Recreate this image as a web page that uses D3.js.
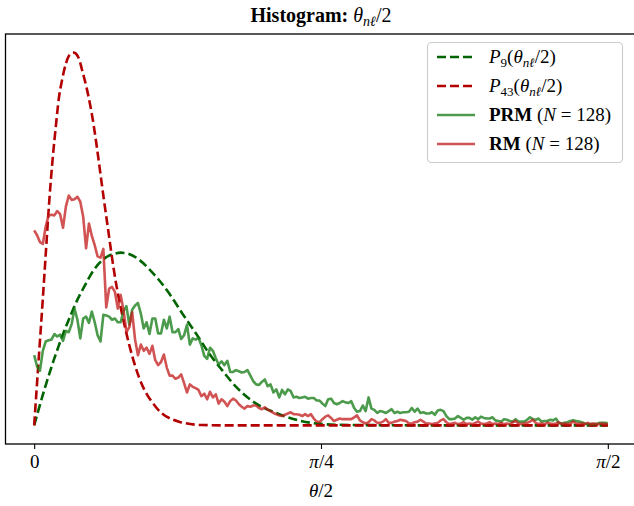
<!DOCTYPE html>
<html><head><meta charset="utf-8">
<script src="https://cdn.jsdelivr.net/npm/d3@7"></script>
<style>
body{margin:0;background:#fff}
svg{display:block}
text{font-family:"Liberation Serif","DejaVu Serif",serif;fill:#000}
</style>
</head><body>
<svg id="chart" width="634" height="506"></svg>
<script>
// ---------------- data ----------------
const binCount = 200;           // histogram bins over [0, π/2]
const thetaMax = Math.PI / 2;

// PRM (N = 128) histogram density, one value per bin
const prmValues = [
 1.13,0.95,0.88,1.20,1.35,1.37,1.38,1.47,1.43,1.46,
 1.36,1.52,1.50,1.63,1.88,1.70,1.40,1.72,1.75,1.65,
 1.83,1.66,1.45,1.35,1.78,1.77,1.75,1.70,1.72,1.66,
 1.66,1.84,1.92,1.62,1.86,1.93,1.97,1.80,1.56,1.66,
 1.47,1.72,1.72,1.48,1.48,1.70,1.56,1.75,1.50,1.50,
 1.55,1.39,1.45,1.62,1.30,1.40,1.38,1.41,1.29,1.12,
 1.07,1.25,1.20,1.08,0.98,1.03,0.97,1.04,0.86,0.86,
 0.89,0.87,0.85,0.86,0.89,0.80,0.71,0.66,0.65,0.70,
 0.74,0.63,0.66,0.53,0.58,0.45,0.57,0.50,0.58,0.55,
 0.45,0.46,0.44,0.45,0.46,0.43,0.44,0.44,0.40,0.40,
 0.35,0.31,0.42,0.43,0.36,0.34,0.36,0.39,0.37,0.36,
 0.39,0.28,0.22,0.23,0.32,0.23,0.45,0.27,0.25,0.20,
 0.23,0.22,0.20,0.23,0.26,0.20,0.22,0.20,0.21,0.21,
 0.22,0.28,0.22,0.27,0.20,0.21,0.19,0.19,0.21,0.17,
 0.24,0.25,0.23,0.15,0.10,0.10,0.11,0.15,0.12,0.09,
 0.12,0.12,0.09,0.13,0.10,0.14,0.12,0.11,0.11,0.13,
 0.08,0.07,0.06,0.10,0.09,0.07,0.06,0.10,0.06,0.06,
 0.06,0.09,0.13,0.10,0.09,0.11,0.06,0.07,0.07,0.09,
 0.08,0.11,0.04,0.03,0.04,0.05,0.07,0.08,0.07,0.06,
 0.05,0.03,0.02,0.02,0.02,0.02,0.04,0.04,0.04,0.035
];

// RM (N = 128) histogram density, one value per bin
const rmValues = [
 3.14,3.06,2.95,2.92,3.20,3.38,3.39,3.38,3.45,3.40,
 3.18,3.52,3.70,3.63,3.64,3.68,3.60,3.36,2.85,3.25,
 3.05,2.90,2.72,2.70,2.84,1.90,2.20,2.23,2.15,1.88,
 2.10,1.85,1.50,1.58,1.82,1.38,1.13,1.30,1.20,1.25,
 1.15,1.28,1.05,0.97,1.02,1.14,0.93,0.80,0.80,0.75,
 0.77,0.82,0.68,0.53,0.66,0.62,0.60,0.57,0.47,0.51,
 0.42,0.54,0.45,0.50,0.35,0.42,0.38,0.31,0.39,0.43,
 0.40,0.34,0.30,0.27,0.31,0.30,0.32,0.32,0.28,0.26,
 0.29,0.25,0.23,0.20,0.18,0.16,0.15,0.17,0.19,0.21,
 0.18,0.18,0.17,0.15,0.18,0.15,0.18,0.11,0.06,0.05,
 0.10,0.14,0.16,0.12,0.07,0.09,0.11,0.10,0.10,0.10,
 0.10,0.13,0.16,0.08,0.05,0.03,0.05,0.10,0.08,0.04,
 0.04,0.06,0.10,0.04,0.04,0.06,0.07,0.09,0.08,0.07,
 0.03,0.03,0.05,0.06,0.09,0.06,0.03,0.03,0.02,0.03,
 0.04,0.08,0.10,0.05,0.02,0.03,0.04,0.02,0.03,0.05,
 0.02,0.03,0.02,0.04,0.06,0.03,0.02,0.03,0.05,0.02,
 0.03,0.02,0.04,0.02,0.03,0.02,0.05,0.07,0.03,0.02,
 0.03,0.04,0.06,0.09,0.04,0.02,0.03,0.02,0.04,0.03,
 0.02,0.03,0.05,0.02,0.03,0.02,0.03,0.06,0.03,0.02,
 0.03,0.02,0.04,0.02,0.03,0.02,0.02,0.03,0.02,0.02
];

// P9(θ/2): sample positions (fraction of π/2) and density values
const p9Pos = [0,0.0079,0.0166,0.0253,0.0341,0.0428,0.0515,0.0603,0.0742,0.0882,
  0.1039,0.1214,0.1389,0.1511,0.1651,0.1825,0.2000,0.2175,0.2349,0.2576,
  0.2821,0.3048,0.3275,0.3520,0.3869,0.4218,0.4568,0.4917,0.5293,0.5991,0.69,1];
const p9Vals = [0,0.26,0.54,0.80,1.05,1.28,1.50,1.70,2.00,2.25,
  2.50,2.68,2.76,2.78,2.76,2.67,2.52,2.34,2.13,1.81,
  1.48,1.16,0.89,0.62,0.35,0.20,0.09,0.03,0.01,0.003,0,0];

// P43(θ/2)
const p43Pos = [0,0.0044,0.0096,0.0148,0.0201,0.0266,0.0323,0.0376,0.0428,0.0486,
  0.0555,0.0632,0.0690,0.0777,0.0835,0.0922,0.0982,0.1039,0.1097,0.1155,
  0.1213,0.1289,0.1389,0.1593,0.1825,0.2117,0.2524,0.2926,0.34,1];
const p43Vals = [0,0.60,1.30,2.00,2.75,3.65,4.30,4.80,5.25,5.56,
  5.83,5.98,6.00,5.91,5.72,5.40,5.13,4.82,4.45,4.05,
  3.65,3.15,2.50,1.54,0.78,0.30,0.06,0.005,0,0];

const xTickValues = [0, Math.PI/4, Math.PI/2];
const xTickLabels = [["", "0"], ["π", "/4"], ["π", "/2"]];

const seriesStyle = {
  p9:  {color:"#006400", dash:"9,4", width:2.6, opacity:1},
  p43: {color:"#b30000", dash:"9,4", width:2.6, opacity:1},
  prm: {color:"#1a7f1a", dash:null,  width:2.6, opacity:0.78},
  rm:  {color:"#c21a1a", dash:null,  width:2.6, opacity:0.75}
};

// ---------------- chart ----------------
const svg = d3.select("#chart");
const frame = {left:5.5, right:636.5, top:34, bottom:444};
const x = d3.scaleLinear().domain([-0.05*thetaMax, 1.05*thetaMax]).range([frame.left, frame.right]);
const y = d3.scaleLinear().domain([-0.3, 6.3]).range([frame.bottom, frame.top]);

svg.append("defs").append("clipPath").attr("id","clip")
  .append("rect").attr("x",frame.left).attr("y",frame.top)
  .attr("width",frame.right-frame.left).attr("height",frame.bottom-frame.top);

const plot = svg.append("g").attr("clip-path","url(#clip)");

const binTheta = d3.range(binCount).map(i => i/(binCount-1)*thetaMax);
const prmData = binTheta.map((t,i)=>[t, prmValues[i]]);
const rmData  = binTheta.map((t,i)=>[t, rmValues[i]]);
const p9Data  = p9Pos.map((p,i)=>[p*thetaMax, p9Vals[i]]);
const p43Data = p43Pos.map((p,i)=>[p*thetaMax, p43Vals[i]]);

const smooth = d3.line().x(d=>x(d[0])).y(d=>y(d[1])).curve(d3.curveMonotoneX);
const straight = d3.line().x(d=>x(d[0])).y(d=>y(d[1]));

function drawLine(data, gen, st){
  const p = plot.append("path").datum(data).attr("d", gen)
    .attr("fill","none").attr("stroke", st.color).attr("stroke-width", st.width)
    .attr("stroke-opacity", st.opacity).attr("stroke-linejoin","round");
  if (st.dash) p.attr("stroke-dasharray", st.dash);
}
drawLine(p9Data, smooth, seriesStyle.p9);
drawLine(p43Data, smooth, seriesStyle.p43);
drawLine(prmData, straight, seriesStyle.prm);
drawLine(rmData, straight, seriesStyle.rm);

// frame
svg.append("rect").attr("x",frame.left).attr("y",frame.top)
  .attr("width",frame.right-frame.left).attr("height",frame.bottom-frame.top)
  .attr("fill","none").attr("stroke","#000").attr("stroke-width",1.3);

// x axis
const axisG = svg.append("g").attr("transform",`translate(0,${frame.bottom})`)
  .call(d3.axisBottom(x).tickValues(xTickValues).tickSize(5).tickPadding(6).tickFormat(()=>""));
axisG.select(".domain").remove();
axisG.selectAll(".tick line").attr("stroke","#000").attr("stroke-width",1.1);
axisG.selectAll(".tick text").each(function(d,i){
  const t = d3.select(this).attr("font-size",19).attr("font-family",null);
  t.text(null);
  if (xTickLabels[i][0]) t.append("tspan").attr("font-style","italic").text(xTickLabels[i][0]);
  t.append("tspan").text(xTickLabels[i][1]);
});

// x label
const xl = svg.append("text").attr("x", x(thetaMax/2)).attr("y", 497)
  .attr("text-anchor","middle").attr("font-size",19);
xl.append("tspan").attr("font-style","italic").text("θ");
xl.append("tspan").text("/2");

// title
const title = svg.append("text").attr("x", (frame.left+frame.right)/2).attr("y", 22)
  .attr("text-anchor","middle").attr("font-size",20);
title.append("tspan").attr("font-weight","bold").text("Histogram:");
title.append("tspan").text(" ");
title.append("tspan").attr("font-style","italic").text("θ");
title.append("tspan").attr("font-style","italic").attr("font-size",14).attr("dy",4).text("nℓ");
title.append("tspan").attr("dy",-4).text("/2");

// legend
const legend = svg.append("g");
legend.append("rect").attr("x",427.5).attr("y",42.5).attr("width",195).attr("height",120)
  .attr("rx",4).attr("fill","#fff").attr("fill-opacity",0.85)
  .attr("stroke","#cccccc").attr("stroke-width",1.1);
const legendRows = [
  {key:"p9",  sub:"9"},
  {key:"p43", sub:"43"},
  {key:"prm", name:"PRM"},
  {key:"rm",  name:"RM"}
];
legendRows.forEach((r,i)=>{
  const yy = 57 + i*29;
  const st = seriesStyle[r.key];
  const ln = legend.append("line").attr("x1",437).attr("x2",475).attr("y1",yy).attr("y2",yy)
    .attr("stroke",st.color).attr("stroke-width",st.width).attr("stroke-opacity",st.opacity);
  if (st.dash) ln.attr("stroke-dasharray",st.dash);
  const t = legend.append("text").attr("x",489).attr("y",yy+6).attr("font-size",19);
  if (r.sub){
    t.append("tspan").attr("font-style","italic").text("P");
    t.append("tspan").attr("font-size",13).attr("dy",4).text(r.sub);
    t.append("tspan").attr("dy",-4).text("(");
    t.append("tspan").attr("font-style","italic").text("θ");
    t.append("tspan").attr("font-style","italic").attr("font-size",13).attr("dy",4).text("nℓ");
    t.append("tspan").attr("dy",-4).text("/2)");
  } else {
    t.append("tspan").attr("font-weight","bold").text(r.name);
    t.append("tspan").text(" (");
    t.append("tspan").attr("font-style","italic").text("N");
    t.append("tspan").text(" = 128)");
  }
});
</script>
</body></html>
